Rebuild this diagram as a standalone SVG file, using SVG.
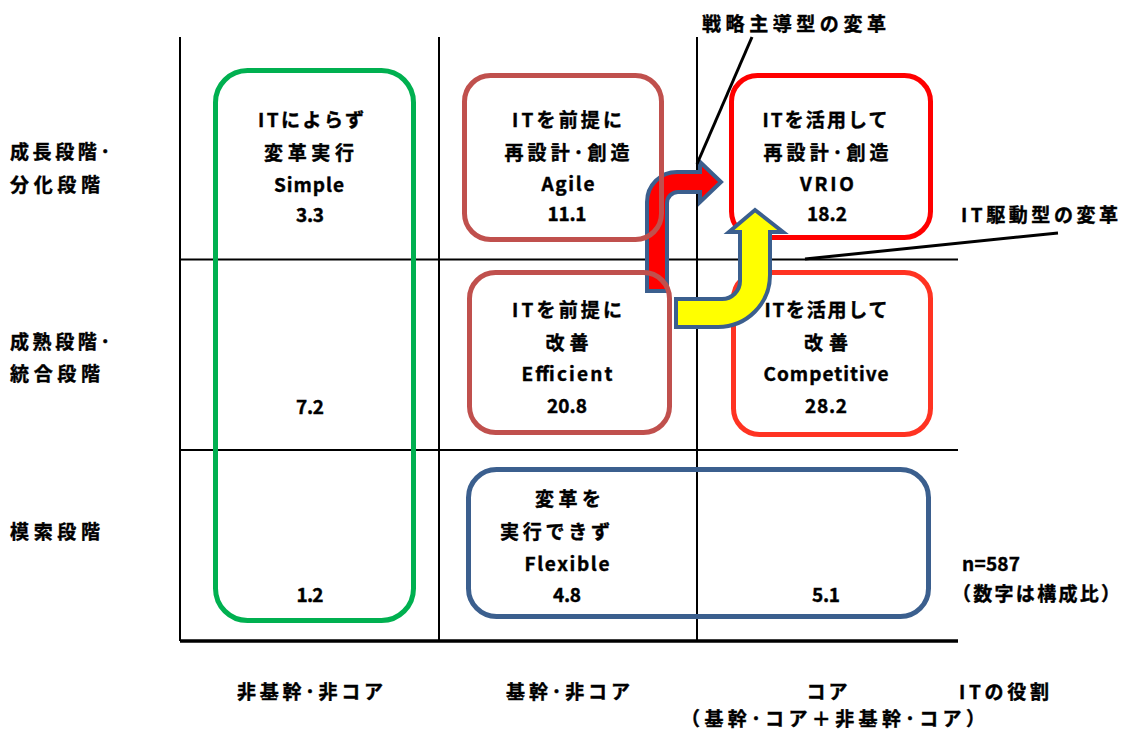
<svg xmlns="http://www.w3.org/2000/svg" width="1122" height="731" viewBox="0 0 1122 731">
<style>
text{font-family:"Noto Sans CJK JP","Liberation Sans",sans-serif;font-weight:bold;font-size:19px;fill:#000;stroke:#000;stroke-width:0.4;dominant-baseline:central}
.c{text-anchor:middle}
.box{fill:none;stroke-width:5}
.grid{stroke:#000;stroke-width:2;fill:none}
.arrow{stroke:#3B5F8E;stroke-width:4;stroke-linejoin:miter}
.call{stroke:#000;stroke-width:3}
</style>
<rect width="1122" height="731" fill="#fff"/>
<g id="grid">
<line class="grid" x1="180" y1="37" x2="180" y2="641"/>
<line class="grid" x1="439" y1="37" x2="439" y2="641"/>
<line class="grid" x1="697" y1="37" x2="697" y2="641"/>
<line class="grid" x1="180" y1="259.5" x2="958" y2="259.5"/>
<line class="grid" x1="180" y1="450" x2="958" y2="450"/>
<line x1="180" y1="641" x2="958" y2="641" stroke="#000" stroke-width="3.5"/>
</g>
<g id="connectors">
<path id="arrow-strategy" class="arrow" fill="#FF0000" d="M647 291 L647 202 A30 30 0 0 1 677 172 L700 172 L700 162 L721 182 L700 202 L700 192 L678 192 A11 11 0 0 0 667 203 L667 291 Z"/>
<line class="call" x1="752" y1="37" x2="697" y2="164"/>
<line class="call" x1="1058" y1="233" x2="805" y2="259"/>
</g>
<g id="simple">
<rect class="box" x="215.5" y="70.5" width="198" height="550" rx="32" stroke="#00B050"/>
<text class="c" x="311" y="118" textLength="106" lengthAdjust="spacing">ITによらず</text>
<text class="c" x="309" y="151" textLength="90" lengthAdjust="spacing">変革実行</text>
<text class="c" x="309" y="183" textLength="70" lengthAdjust="spacing">Simple</text>
<text class="c" x="310" y="213" textLength="28" lengthAdjust="spacing">3.3</text>
<text class="c" x="310" y="405" textLength="28" lengthAdjust="spacing">7.2</text>
<text class="c" x="310" y="593" textLength="27" lengthAdjust="spacing">1.2</text>
</g>
<g id="agile">
<rect class="box" x="464.5" y="75.5" width="197" height="164" rx="26" stroke="#C0504D"/>
<text class="c" x="567" y="118" textLength="110" lengthAdjust="spacing">ITを前提に</text>
<text class="c" x="567" y="151" textLength="125" lengthAdjust="spacing">再設計･創造</text>
<text class="c" x="568" y="182" textLength="53" lengthAdjust="spacing">Agile</text>
<text class="c" x="567" y="212" textLength="39" lengthAdjust="spacing">11.1</text>
</g>
<g id="efficient">
<rect class="box" x="469.5" y="272.5" width="200" height="160" rx="26" stroke="#C0504D"/>
<text class="c" x="567" y="308" textLength="110" lengthAdjust="spacing">ITを前提に</text>
<text class="c" x="567" y="341" textLength="43" lengthAdjust="spacing">改善</text>
<text class="c" x="567" y="372" textLength="91" lengthAdjust="spacing">Efficient</text>
<text class="c" x="567" y="404" textLength="40" lengthAdjust="spacing">20.8</text>
</g>
<g id="vrio">
<rect class="box" x="731.5" y="75.5" width="199" height="162" rx="26" stroke="#FF0000"/>
<text class="c" x="825" y="118" textLength="125" lengthAdjust="spacing">ITを活用して</text>
<text class="c" x="826" y="151" textLength="125" lengthAdjust="spacing">再設計･創造</text>
<text class="c" x="827" y="182" textLength="54" lengthAdjust="spacing">VRIO</text>
<text class="c" x="827" y="212" textLength="40" lengthAdjust="spacing">18.2</text>
</g>
<g id="competitive">
<rect class="box" x="733.5" y="272.5" width="197" height="162" rx="26" stroke="#FF3322"/>
<text class="c" x="826" y="308" textLength="123" lengthAdjust="spacing">ITを活用して</text>
<text class="c" x="826" y="341" textLength="44" lengthAdjust="spacing">改善</text>
<text class="c" x="826" y="372" textLength="125" lengthAdjust="spacing">Competitive</text>
<text class="c" x="826" y="404" textLength="42" lengthAdjust="spacing">28.2</text>
</g>
<g id="flexible">
<rect class="box" x="468.5" y="469.5" width="460" height="147" rx="28" stroke="#3B5F8E"/>
<text class="c" x="568" y="497" textLength="66" lengthAdjust="spacing">変革を</text>
<text class="c" x="555" y="530" textLength="110" lengthAdjust="spacing">実行できず</text>
<text class="c" x="567" y="562" textLength="85" lengthAdjust="spacing">Flexible</text>
<text class="c" x="567" y="593" textLength="28" lengthAdjust="spacing">4.8</text>
<text class="c" x="826" y="593" textLength="28" lengthAdjust="spacing">5.1</text>
</g>
<g id="arrow-it">
<path class="arrow" fill="#FFFF00" d="M676 299 L722 299 A18 18 0 0 0 740 281 L740 232 L729 232 L755 210 L783 232 L770 232 L770 275 A52 52 0 0 1 718 327 L676 327 Z"/>
</g>
<g id="labels">
<text x="702" y="22" textLength="184" lengthAdjust="spacing">戦略主導型の変革</text>
<text x="961" y="213" textLength="157" lengthAdjust="spacing">IT駆動型の変革</text>
<text x="10" y="150" textLength="100" lengthAdjust="spacing">成長段階･</text>
<text x="10" y="183" textLength="90" lengthAdjust="spacing">分化段階</text>
<text x="10" y="340" textLength="100" lengthAdjust="spacing">成熟段階･</text>
<text x="10" y="372" textLength="90" lengthAdjust="spacing">統合段階</text>
<text x="10" y="530" textLength="90" lengthAdjust="spacing">模索段階</text>
<text x="962" y="562" textLength="58" lengthAdjust="spacing">n=587</text>
<text x="952" y="592" textLength="168" lengthAdjust="spacing">（数字は構成比）</text>
<text class="c" x="310" y="690" textLength="146" lengthAdjust="spacing">非基幹･非コア</text>
<text class="c" x="568" y="690" textLength="124" lengthAdjust="spacing">基幹･非コア</text>
<text class="c" x="827" y="690" textLength="41" lengthAdjust="spacing">コア</text>
<text x="959" y="690" textLength="90" lengthAdjust="spacing">ITの役割</text>
<text class="c" x="833" y="717" textLength="304" lengthAdjust="spacing">（基幹･コア＋非基幹･コア）</text>
</g>
</svg>
